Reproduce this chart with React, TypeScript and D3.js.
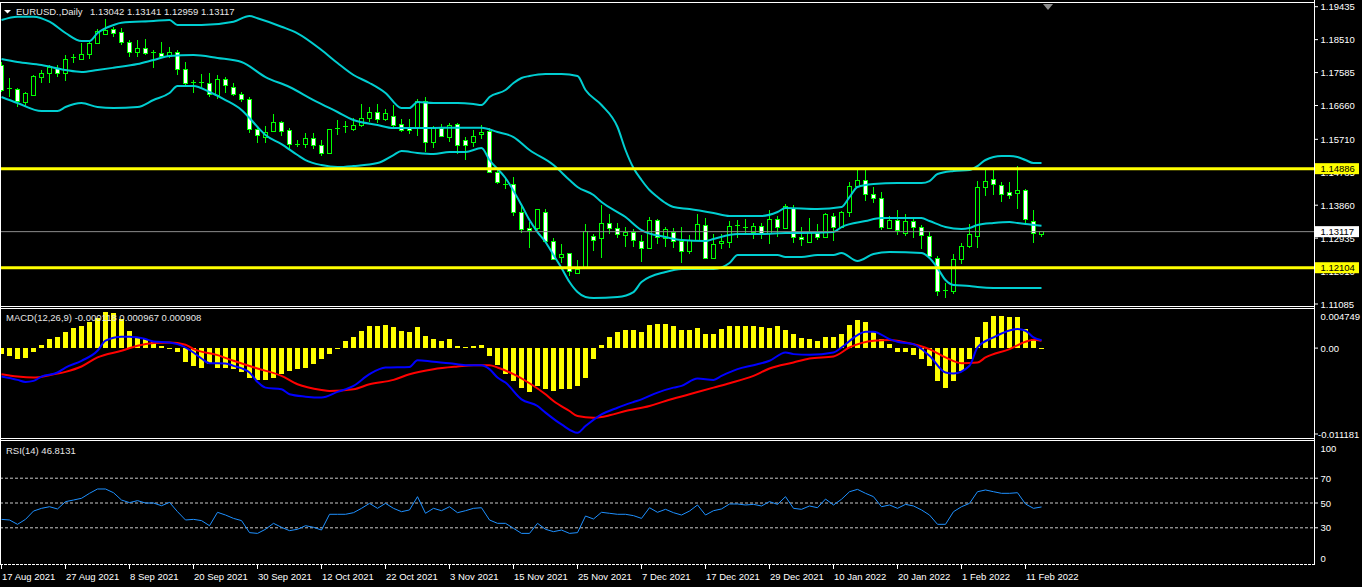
import React from 'react';
import * as d3 from 'd3';

// date labels on the time axis, one every 8 bars
const dateLabels = [
  '17 Aug 2021', '27 Aug 2021', '8 Sep 2021', '20 Sep 2021', '30 Sep 2021', '12 Oct 2021',
  '22 Oct 2021', '3 Nov 2021', '15 Nov 2021', '25 Nov 2021', '7 Dec 2021', '17 Dec 2021',
  '29 Dec 2021', '10 Jan 2022', '20 Jan 2022', '1 Feb 2022', '11 Feb 2022',
];

const opens = [
  1.17797, 1.17123, 1.17123, 1.16758, 1.16954, 1.17460, 1.17572, 1.17713, 1.17572, 1.17994,
  1.17966, 1.18106, 1.18415, 1.18668, 1.18808, 1.18724, 1.18443, 1.18162, 1.18247, 1.18162,
  1.18134, 1.18050, 1.18162, 1.17685, 1.17320, 1.17292, 1.17264, 1.16954, 1.17404, 1.17179,
  1.16983, 1.16842, 1.15999, 1.15775, 1.15943, 1.16196, 1.15971, 1.15578, 1.15578, 1.15747,
  1.15550, 1.15325, 1.16028, 1.16056, 1.15999, 1.16112, 1.16308, 1.16477, 1.16280, 1.16365,
  1.16140, 1.16028, 1.16028, 1.16786, 1.15634, 1.16028, 1.15775, 1.16140, 1.15690, 1.15634,
  1.15859, 1.15943, 1.14792, 1.14454, 1.14454, 1.13668, 1.13219, 1.13219, 1.13668, 1.12853,
  1.12404, 1.12516, 1.11954, 1.12095, 1.12994, 1.12938, 1.13359, 1.13219, 1.13022, 1.13106,
  1.12853, 1.12657, 1.13443, 1.12938, 1.13106, 1.12853, 1.12572, 1.12881, 1.13303, 1.12376,
  1.12797, 1.12825, 1.13275, 1.13219, 1.13106, 1.13275, 1.13078, 1.13471, 1.13219, 1.13780,
  1.12966, 1.12825, 1.13078, 1.12966, 1.13556, 1.13247, 1.13668, 1.14398, 1.14567, 1.14174,
  1.14061, 1.13219, 1.13443, 1.13078, 1.13415, 1.13247, 1.12994, 1.12376, 1.11477, 1.11449,
  1.12348, 1.12713, 1.12994, 1.14370, 1.14595, 1.14426, 1.14230, 1.14202, 1.14286, 1.13415,
  1.13042,
];

const highs = [
  1.17881, 1.17432, 1.17151, 1.17039, 1.17516, 1.17657, 1.17797, 1.17797, 1.18078, 1.18106,
  1.18415, 1.18443, 1.18808, 1.19089, 1.18865, 1.18837, 1.18499, 1.18499, 1.18528, 1.18219,
  1.18443, 1.18303, 1.18219, 1.17881, 1.17376, 1.17544, 1.17572, 1.17516, 1.17460, 1.17292,
  1.17039, 1.16898, 1.16084, 1.16084, 1.16421, 1.16224, 1.16028, 1.15690, 1.15887, 1.15887,
  1.15690, 1.16010, 1.16252, 1.16224, 1.16308, 1.16702, 1.16617, 1.16702, 1.16561, 1.16674,
  1.16280, 1.16280, 1.16842, 1.16898, 1.16084, 1.16140, 1.16168, 1.16168, 1.15775, 1.15971,
  1.16112, 1.16028, 1.14848, 1.14623, 1.14651, 1.13865, 1.13387, 1.13760, 1.13752, 1.12938,
  1.12769, 1.12520, 1.12320, 1.13331, 1.13050, 1.13865, 1.13612, 1.13359, 1.13247, 1.13190,
  1.13022, 1.13528, 1.13471, 1.13247, 1.13219, 1.13247, 1.13022, 1.13612, 1.13499, 1.13050,
  1.13050, 1.13415, 1.13443, 1.13471, 1.13359, 1.13359, 1.13724, 1.13556, 1.13893, 1.13865,
  1.13247, 1.13499, 1.13331, 1.13640, 1.13640, 1.13696, 1.14511, 1.14848, 1.14848, 1.14370,
  1.14230, 1.13556, 1.13724, 1.13612, 1.13499, 1.13303, 1.13106, 1.12432, 1.11673, 1.12488,
  1.12797, 1.13331, 1.14539, 1.14848, 1.14848, 1.14511, 1.14511, 1.14960, 1.14314, 1.13724,
  1.13141,
];

const lows = [
  1.17039, 1.16898, 1.16617, 1.16617, 1.16926, 1.17292, 1.17292, 1.17460, 1.17348, 1.17853,
  1.17960, 1.17966, 1.18387, 1.18660, 1.18584, 1.18359, 1.18022, 1.18022, 1.18078, 1.17713,
  1.17994, 1.17994, 1.17516, 1.17207, 1.17011, 1.17179, 1.16898, 1.16842, 1.17011, 1.16926,
  1.16758, 1.15887, 1.15606, 1.15606, 1.15915, 1.15803, 1.15410, 1.15494, 1.15466, 1.15438,
  1.15241, 1.15297, 1.15831, 1.15887, 1.15943, 1.16056, 1.16196, 1.16168, 1.16224, 1.16056,
  1.15915, 1.15859, 1.15803, 1.15353, 1.15466, 1.15775, 1.15634, 1.15297, 1.15129, 1.15494,
  1.15719, 1.14780, 1.14454, 1.14314, 1.13556, 1.13078, 1.12657, 1.13162, 1.12840, 1.12320,
  1.12235, 1.11870, 1.11950, 1.12067, 1.12572, 1.12376, 1.13050, 1.12938, 1.12685, 1.12685,
  1.12263, 1.12650, 1.12769, 1.12685, 1.12657, 1.12235, 1.12488, 1.12853, 1.12370, 1.12370,
  1.12629, 1.12657, 1.12938, 1.13078, 1.12910, 1.12910, 1.12769, 1.12966, 1.13190, 1.12797,
  1.12713, 1.12820, 1.12881, 1.12960, 1.12853, 1.13219, 1.13528, 1.14370, 1.13977, 1.13921,
  1.13162, 1.13190, 1.13022, 1.12994, 1.12938, 1.12629, 1.12404, 1.11308, 1.11252, 1.11365,
  1.12207, 1.12657, 1.12657, 1.14117, 1.14145, 1.13949, 1.14033, 1.13752, 1.13303, 1.12797,
  1.12959,
];

const closes = [
  1.17095, 1.17151, 1.16786, 1.17011, 1.17488, 1.17572, 1.17741, 1.17572, 1.17966, 1.18000,
  1.18106, 1.18415, 1.18752, 1.18780, 1.18696, 1.18443, 1.18162, 1.18247, 1.18134, 1.18150,
  1.18050, 1.18162, 1.17685, 1.17264, 1.17310, 1.17300, 1.16983, 1.17404, 1.17235, 1.16983,
  1.16842, 1.15999, 1.15831, 1.15915, 1.16196, 1.15943, 1.15578, 1.15570, 1.15747, 1.15550,
  1.15325, 1.15999, 1.16020, 1.16060, 1.16112, 1.16308, 1.16477, 1.16280, 1.16449, 1.16112,
  1.15971, 1.15971, 1.16786, 1.15634, 1.16028, 1.15803, 1.16112, 1.15550, 1.15550, 1.15803,
  1.15915, 1.14792, 1.14511, 1.14450, 1.13668, 1.13190, 1.13162, 1.13752, 1.12853, 1.12348,
  1.12488, 1.12011, 1.12067, 1.13134, 1.12881, 1.13359, 1.13219, 1.13050, 1.13106, 1.12881,
  1.12657, 1.13443, 1.12966, 1.13190, 1.12853, 1.12572, 1.12881, 1.13331, 1.12376, 1.12769,
  1.12853, 1.13275, 1.13280, 1.13225, 1.13275, 1.13078, 1.13471, 1.13247, 1.13837, 1.12966,
  1.12910, 1.13106, 1.12966, 1.13612, 1.13247, 1.13668, 1.14398, 1.14567, 1.14174, 1.14061,
  1.13247, 1.13443, 1.13162, 1.13415, 1.13247, 1.13022, 1.12432, 1.11449, 1.11470, 1.12348,
  1.12713, 1.13050, 1.14370, 1.14539, 1.14454, 1.14174, 1.14145, 1.14286, 1.13471, 1.13078,
  1.13117,
];

// Bollinger bands: [bar, price]
const bbUpper: [number, number][] = [
  [0, 1.19061], [2, 1.19154], [4, 1.19154], [6, 1.19013], [8, 1.18696], [10, 1.18471], [11, 1.18471],
  [12, 1.18696], [14, 1.18921], [15, 1.18985], [19, 1.19033], [21, 1.19061], [22, 1.18921], [25, 1.18921],
  [29, 1.19013], [31, 1.19174], [32, 1.19109], [35, 1.18873], [37, 1.18688], [40, 1.18219], [42, 1.17853],
  [44, 1.17516], [46, 1.17292], [48, 1.17011], [50, 1.16589], [51, 1.16589], [52, 1.16758], [54, 1.16730],
  [57, 1.16730], [59, 1.16702], [60, 1.16674], [61, 1.16898], [63, 1.17095], [64, 1.17292], [65, 1.17432],
  [66, 1.17488], [68, 1.17544], [70, 1.17544], [72, 1.17488], [73, 1.17095], [75, 1.16674], [77, 1.16056],
  [78, 1.15410], [79, 1.14904], [80, 1.14567], [81, 1.14286], [82, 1.14089], [83, 1.13921], [84, 1.13808],
  [86, 1.13752], [89, 1.13640], [91, 1.13556], [95, 1.13556], [97, 1.13668], [98, 1.13780], [102, 1.13752],
  [105, 1.13808], [106, 1.14089], [107, 1.14370], [109, 1.14454], [112, 1.14483], [115, 1.14483],
  [116, 1.14539], [117, 1.14735], [119, 1.14820], [121, 1.14848], [122, 1.14960], [123, 1.15129],
  [125, 1.15241], [126, 1.15241], [127, 1.15213], [128, 1.15129], [129, 1.15044], [130, 1.15044],
];

const bbMiddle: [number, number][] = [
  [0, 1.17966], [2, 1.17881], [5, 1.17797], [8, 1.17657], [10, 1.17601], [12, 1.17657], [14, 1.17721],
  [17, 1.17825], [19, 1.17938], [21, 1.18050], [24, 1.18078], [27, 1.17994], [30, 1.17881], [33, 1.17460],
  [36, 1.17179], [39, 1.16814], [42, 1.16477], [44, 1.16252], [47, 1.16112], [49, 1.16028], [54, 1.16028],
  [56, 1.16036], [60, 1.16036], [62, 1.15915], [64, 1.15775], [66, 1.15410], [69, 1.14988], [71, 1.14567],
  [72, 1.14370], [74, 1.14145], [75, 1.13949], [78, 1.13528], [80, 1.13162], [83, 1.12966], [85, 1.12881],
  [88, 1.12853], [89, 1.12910], [92, 1.13050], [95, 1.13050], [98, 1.13078], [100, 1.13078], [104, 1.13106],
  [105, 1.13247], [108, 1.13415], [110, 1.13499], [115, 1.13499], [116, 1.13415], [118, 1.13247],
  [120, 1.13190], [121, 1.13219], [122, 1.13303], [124, 1.13359], [126, 1.13387], [127, 1.13359],
  [128, 1.13331], [130, 1.13283],
];

const bbLower: [number, number][] = [
  [0, 1.16898], [2, 1.16730], [5, 1.16505], [7, 1.16505], [8, 1.16617], [10, 1.16730], [12, 1.16617],
  [14, 1.16589], [17, 1.16617], [19, 1.16814], [21, 1.17011], [22, 1.17207], [24, 1.17207], [26, 1.17039],
  [28, 1.16814], [30, 1.16533], [31, 1.16308], [32, 1.16056], [33, 1.15831], [35, 1.15578], [37, 1.15269],
  [38, 1.15129], [40, 1.14988], [42, 1.14932], [44, 1.14960], [47, 1.15044], [49, 1.15269], [50, 1.15381],
  [52, 1.15325], [54, 1.15297], [56, 1.15353], [58, 1.15353], [60, 1.15466], [61, 1.15129], [63, 1.14623],
  [65, 1.13865], [66, 1.13443], [67, 1.13106], [68, 1.12825], [69, 1.12460], [70, 1.12095], [71, 1.11702],
  [72, 1.11421], [73, 1.11280], [74, 1.11252], [77, 1.11280], [79, 1.11421], [80, 1.11702], [83, 1.11983],
  [85, 1.12067], [89, 1.12067], [91, 1.12235], [92, 1.12460], [97, 1.12460], [98, 1.12404], [100, 1.12404],
  [102, 1.12460], [104, 1.12460], [105, 1.12516], [107, 1.12292], [109, 1.12488], [111, 1.12544],
  [115, 1.12516], [116, 1.12376], [117, 1.12095], [118, 1.11758], [119, 1.11617], [121, 1.11589],
  [122, 1.11561], [124, 1.11533], [130, 1.11533],
];

const macdHist = [
  -0.00074, -0.00095, -0.00128, -0.00123, -0.00054, 0.00041, 0.00111, 0.00132, 0.00193, 0.00243,
  0.00268, 0.00317, 0.00366, 0.00440, 0.00432, 0.00358, 0.00214, 0.00132, 0.00111, 0.00070,
  0.00029, -0.00012, -0.00054, -0.00177, -0.00218, -0.00239, -0.00198, -0.00239, -0.00239, -0.00259,
  -0.00300, -0.00362, -0.00391, -0.00391, -0.00362, -0.00321, -0.00280, -0.00259, -0.00239, -0.00198,
  -0.00136, -0.00074, -0.00012, 0.00091, 0.00132, 0.00214, 0.00268, 0.00268, 0.00288, 0.00255,
  0.00214, 0.00193, 0.00255, 0.00152, 0.00111, 0.00091, 0.00111, 0.00021, 0.00008, 0.00029,
  0.00041, -0.00095, -0.00210, -0.00321, -0.00403, -0.00486, -0.00539, -0.00465, -0.00506, -0.00527,
  -0.00506, -0.00506, -0.00465, -0.00362, -0.00136, 0.00037, 0.00132, 0.00193, 0.00226, 0.00226,
  0.00193, 0.00288, 0.00296, 0.00296, 0.00268, 0.00226, 0.00226, 0.00243, 0.00173, 0.00173,
  0.00235, 0.00268, 0.00268, 0.00268, 0.00268, 0.00255, 0.00243, 0.00268, 0.00226, 0.00173,
  0.00123, 0.00111, 0.00091, 0.00132, 0.00132, 0.00173, 0.00284, 0.00350, 0.00317, 0.00214,
  0.00111, 0.00049, -0.00054, -0.00054, -0.00086, -0.00136, -0.00218, -0.00403, -0.00494, -0.00403,
  -0.00280, -0.00136, 0.00132, 0.00317, 0.00399, 0.00399, 0.00379, 0.00379, 0.00235, 0.00111,
  -0.00012,
];

const macdMain: [number, number][] = [
  [0, -0.00350], [2, -0.00391], [3, -0.00416], [4, -0.00403], [5, -0.00350], [7, -0.00300], [8, -0.00239],
  [10, -0.00156], [12, -0.00033], [13, 0.00091], [15, 0.00140], [16, 0.00140], [18, 0.00111], [19, 0.00082],
  [21, 0.00070], [22, 0.00049], [24, -0.00054], [25, -0.00128], [26, -0.00185], [28, -0.00189],
  [29, -0.00218], [31, -0.00300], [32, -0.00416], [33, -0.00486], [35, -0.00506], [36, -0.00568],
  [38, -0.00597], [40, -0.00609], [42, -0.00539], [44, -0.00465], [46, -0.00321], [48, -0.00239],
  [51, -0.00231], [52, -0.00148], [54, -0.00169], [56, -0.00185], [58, -0.00210], [60, -0.00210],
  [61, -0.00259], [62, -0.00362], [63, -0.00424], [65, -0.00630], [67, -0.00712], [68, -0.00794],
  [70, -0.00939], [72, -0.01041], [73, -0.00959], [75, -0.00815], [77, -0.00733], [79, -0.00663],
  [80, -0.00630], [82, -0.00547], [84, -0.00486], [85, -0.00465], [87, -0.00375], [89, -0.00391],
  [90, -0.00342], [92, -0.00259], [94, -0.00210], [96, -0.00156], [98, -0.00054], [99, -0.00074],
  [101, -0.00082], [104, -0.00054], [105, 0.00008], [107, 0.00161], [108, 0.00202], [109, 0.00202],
  [111, 0.00111], [112, 0.00078], [114, 0.00049], [116, -0.00095], [118, -0.00300], [119, -0.00313],
  [121, -0.00218], [122, 0.00008], [124, 0.00132], [127, 0.00235], [128, 0.00214], [129, 0.00132],
  [130, 0.00097],
];

const macdSignal: [number, number][] = [
  [0, -0.00321], [2, -0.00350], [4, -0.00362], [6, -0.00333], [8, -0.00292], [10, -0.00226], [12, -0.00115],
  [15, -0.00033], [17, 0.00029], [19, 0.00062], [21, 0.00070], [23, 0.00041], [24, -0.00012], [27, -0.00086],
  [29, -0.00156], [32, -0.00251], [35, -0.00342], [37, -0.00445], [40, -0.00515], [41, -0.00527],
  [44, -0.00506], [46, -0.00445], [49, -0.00391], [51, -0.00321], [54, -0.00259], [57, -0.00226],
  [59, -0.00210], [61, -0.00210], [62, -0.00239], [64, -0.00321], [66, -0.00432], [68, -0.00568],
  [69, -0.00650], [71, -0.00774], [72, -0.00836], [74, -0.00856], [76, -0.00827], [78, -0.00774],
  [81, -0.00712], [83, -0.00650], [86, -0.00568], [89, -0.00486], [91, -0.00432], [94, -0.00342],
  [96, -0.00251], [99, -0.00177], [101, -0.00128], [104, -0.00103], [106, 0.00008], [109, 0.00091],
  [111, 0.00099], [113, 0.00070], [116, -0.00012], [118, -0.00115], [120, -0.00185], [122, -0.00177],
  [123, -0.00115], [126, -0.00012], [128, 0.00078], [129, 0.00103], [130, 0.00091],
];

const rsiValues = [
  36.8, 36.3, 32.8, 36.8, 43.5, 45.7, 47.0, 45.2, 51.1, 52.4,
  53.8, 57.8, 61.3, 61.3, 58.3, 52.4, 50.3, 51.9, 50.0, 50.0,
  47.8, 50.5, 43.0, 36.3, 36.8, 35.8, 31.7, 42.5, 40.3, 37.6,
  35.8, 26.1, 25.5, 28.8, 33.6, 30.4, 27.7, 28.8, 31.7, 30.4,
  28.2, 40.9, 40.9, 40.9, 42.2, 45.7, 49.7, 45.7, 49.7, 45.7,
  43.0, 44.4, 55.1, 41.7, 45.7, 43.8, 47.0, 42.2, 43.8, 45.7,
  46.2, 36.3, 33.6, 33.6, 29.6, 25.5, 25.5, 33.6, 28.8, 26.9,
  28.2, 25.5, 26.1, 39.5, 37.1, 42.5, 41.7, 40.9, 40.9, 39.8,
  37.6, 46.2, 42.5, 44.9, 42.2, 40.3, 43.5, 48.4, 40.3, 43.8,
  45.2, 49.2, 49.2, 48.4, 48.9, 47.6, 51.1, 48.9, 55.1, 45.7,
  44.9, 47.6, 46.2, 53.2, 48.4, 53.0, 59.1, 61.0, 57.8, 55.1,
  47.0, 48.4, 45.7, 48.9, 47.6, 44.4, 40.3, 32.8, 32.8, 43.0,
  47.0, 49.7, 59.1, 60.5, 59.1, 57.8, 57.8, 58.3, 49.2, 45.7,
  46.8,
];

const priceTicks = [1.19435, 1.18510, 1.17585, 1.16660, 1.15710, 1.14785, 1.13860, 1.12935, 1.12010, 1.11085];
const levelLines = [1.14886, 1.12104];
const bidPrice = 1.13117;
const rsiLevels = [70, 50, 30];

const FONT = '"Liberation Sans", Arial, sans-serif';
const AXIS_X = 1314;
const CANDLE = '#00ff00';

export default function App() {
  const x = d3.scaleLinear().domain([0, 130]).range([1.5, 1041.5]);
  const yPrice = d3.scaleLinear().domain([1.11085, 1.19435]).range([304, 6.7]);
  const yMacd = d3.scaleLinear().domain([-0.011181, 0.004749]).range([439, 309.5]);
  const yRsi = d3.scaleLinear().domain([0, 100]).range([565, 441]);

  const bandLine = d3.line<[number, number]>()
    .x((d) => x(d[0]))
    .y((d) => yPrice(d[1]))
    .curve(d3.curveMonotoneX);
  const macdLine = d3.line<[number, number]>()
    .x((d) => x(d[0]))
    .y((d) => yMacd(d[1]))
    .curve(d3.curveMonotoneX);
  const rsiLine = d3.line<number>()
    .x((_, i) => x(i))
    .y((d) => yRsi(d));

  const zeroY = yMacd(0);

  return (
    <div style={{ width: 1362, height: 587, background: '#000' }}>
      <style>{'body{margin:0;background:#000;}'}</style>
      <svg width={1362} height={587} style={{ display: 'block' }} fontFamily={FONT} fontSize={9.5}>
        <rect width={1362} height={587} fill="#000" />
        <defs>
          <clipPath id="mainClip"><rect x={0} y={3} width={AXIS_X} height={303} /></clipPath>
          <clipPath id="macdClip"><rect x={0} y={309} width={AXIS_X} height={129} /></clipPath>
          <clipPath id="rsiClip"><rect x={0} y={441} width={AXIS_X} height={123} /></clipPath>
        </defs>

        {/* main panel */}
        <g clipPath="url(#mainClip)">
          <g shapeRendering="crispEdges">
            {opens.map((o, i) => {
              const cx = x(i);
              const c = closes[i];
              const yo = yPrice(o);
              const yc = yPrice(c);
              const top = Math.min(yo, yc);
              const h = Math.abs(yo - yc);
              return (
                <g key={i}>
                  <line x1={cx} x2={cx} y1={yPrice(highs[i])} y2={yPrice(lows[i])} stroke={CANDLE} />
                  {h < 1.5 ? (
                    <line x1={cx - 2.5} x2={cx + 2.5} y1={yc} y2={yc} stroke={CANDLE} />
                  ) : (
                    <rect x={cx - 2} y={top} width={4} height={h}
                      fill={c >= o ? '#000' : '#fff'} stroke={CANDLE} />
                  )}
                </g>
              );
            })}
          </g>
          {[bbUpper, bbMiddle, bbLower].map((b, k) => (
            <path key={k} d={bandLine(b) || ''} fill="none" stroke="#00ced1" strokeWidth={2} />
          ))}
          <line x1={0} x2={AXIS_X} y1={yPrice(bidPrice)} y2={yPrice(bidPrice)} stroke="#8c8c8c" />
          {levelLines.map((p) => (
            <line key={p} x1={0} x2={AXIS_X} y1={yPrice(p)} y2={yPrice(p)} stroke="#ffff00" strokeWidth={3} />
          ))}
        </g>
        <path d="M4,10 L11,10 L7.5,13.5 Z" fill="#fff" />
        <text x={16} y={15} fill="#e6e6e6">EURUSD.,Daily</text>
        <text x={90} y={15} fill="#e6e6e6">1.13042 1.13141 1.12959 1.13117</text>
        <path d="M1043,4 L1053,4 L1048,10 Z" fill="#8c8c8c" />

        {/* MACD panel */}
        <g clipPath="url(#macdClip)">
          <g shapeRendering="crispEdges">
            {macdHist.map((v, i) => {
              const yv = yMacd(v);
              return (
                <rect key={i} x={x(i) - 2.5} y={Math.min(yv, zeroY)} width={5}
                  height={Math.max(1, Math.abs(yv - zeroY))} fill="#ffff00" />
              );
            })}
          </g>
          <path d={macdLine(macdSignal) || ''} fill="none" stroke="#ff0000" strokeWidth={2} />
          <path d={macdLine(macdMain) || ''} fill="none" stroke="#0000ff" strokeWidth={2} />
        </g>
        <text x={6} y={321} fill="#e6e6e6">MACD(12,26,9) -0.000118 0.000967 0.000908</text>

        {/* RSI panel */}
        <g clipPath="url(#rsiClip)">
          {rsiLevels.map((l) => (
            <line key={l} x1={0} x2={AXIS_X} y1={yRsi(l)} y2={yRsi(l)} stroke="#c8c8c8" strokeDasharray="3,2" />
          ))}
          <path d={rsiLine(rsiValues) || ''} fill="none" stroke="#1e90ff" strokeWidth={1} />
        </g>
        <text x={6} y={454} fill="#e6e6e6">RSI(14) 46.8131</text>

        {/* frames */}
        <g stroke="#fff" fill="none" shapeRendering="crispEdges">
          <line x1={0} x2={AXIS_X} y1={2.5} y2={2.5} />
          <line x1={0.5} x2={0.5} y1={2} y2={565} />
          <line x1={0} x2={AXIS_X} y1={306.5} y2={306.5} />
          <line x1={0} x2={AXIS_X} y1={308.5} y2={308.5} />
          <line x1={0} x2={AXIS_X} y1={438.5} y2={438.5} />
          <line x1={0} x2={AXIS_X} y1={440.5} y2={440.5} />
          <line x1={0} x2={AXIS_X} y1={564.5} y2={564.5} strokeDasharray="3,1" />
          <line x1={AXIS_X + 0.5} x2={AXIS_X + 0.5} y1={0} y2={565} />
        </g>

        {/* price axis */}
        {priceTicks.map((p) => (
          <g key={p}>
            <line x1={AXIS_X} x2={AXIS_X + 4} y1={yPrice(p)} y2={yPrice(p)} stroke="#fff" />
            <text x={1320.5} y={yPrice(p) + 3.5} fill="#fff">{p.toFixed(5)}</text>
          </g>
        ))}
        {levelLines.map((p) => (
          <g key={p}>
            <rect x={1315} y={yPrice(p) - 5.5} width={44} height={11} fill="#ffff00" />
            <text x={1320.5} y={yPrice(p) + 3.5} fill="#000">{p.toFixed(5)}</text>
          </g>
        ))}
        <rect x={1315} y={yPrice(bidPrice) - 5.5} width={44} height={11} fill="#fff" />
        <text x={1320.5} y={yPrice(bidPrice) + 3.5} fill="#000">{bidPrice.toFixed(5)}</text>

        {/* MACD axis */}
        <line x1={AXIS_X} x2={AXIS_X + 4} y1={zeroY} y2={zeroY} stroke="#fff" />
        <text x={1320.5} y={319.5} fill="#fff">0.004749</text>
        <text x={1320.5} y={zeroY + 3.5} fill="#fff">0.00</text>
        <line x1={AXIS_X} x2={AXIS_X + 4} y1={434} y2={434} stroke="#fff" />
        <text x={1318} y={437.5} fill="#fff">-0.011181</text>

        {/* RSI axis */}
        <text x={1320.5} y={451.5} fill="#fff">100</text>
        {rsiLevels.map((l) => (
          <g key={l}>
            <line x1={AXIS_X} x2={AXIS_X + 4} y1={yRsi(l)} y2={yRsi(l)} stroke="#fff" />
            <text x={1320.5} y={yRsi(l) + 3.5} fill="#fff">{l}</text>
          </g>
        ))}
        <text x={1320.5} y={562} fill="#fff">0</text>

        {/* time axis */}
        {dateLabels.map((lab, k) => {
          const tx = Math.round(x(k * 8)) - 0.5;
          return (
            <g key={lab}>
              <line x1={tx} x2={tx} y1={565} y2={569} stroke="#fff" />
              <text x={tx + 0.5} y={580} fill="#fff">{lab}</text>
            </g>
          );
        })}
      </svg>
    </div>
  );
}
